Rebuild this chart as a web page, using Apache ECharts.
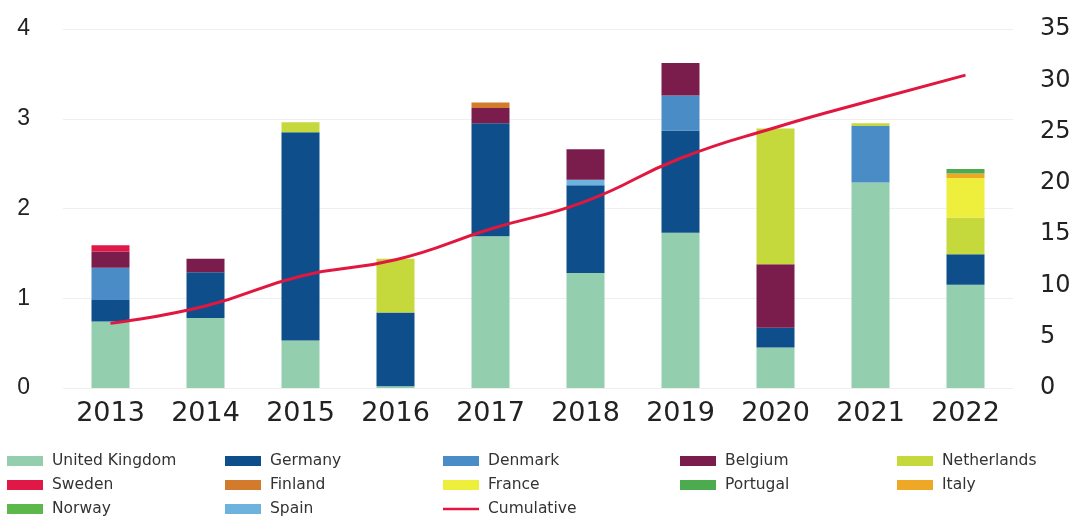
<!DOCTYPE html>
<html>
<head>
<meta charset="utf-8">
<script src="https://cdn.jsdelivr.net/npm/echarts@6/dist/echarts.min.js"></script>
<style>html,body{margin:0;padding:0;background:#fff;}#c{width:1080px;height:520px;}</style>
</head>
<body>
<div id="c"></div>
<script>
const years = ['2013','2014','2015','2016','2017','2018','2019','2020','2021','2022'];
const unitedKingdom = [0.74, 0.78, 0.53, 0.02, 1.69, 1.28, 1.73, 0.45, 2.29, 1.15];
const germany       = [0.24, 0.51, 2.32, 0.82, 1.26, 0.98, 1.14, 0.22, 0,    0.34];
const denmark       = [0.36, 0,    0,    0,    0,    0,    0.39, 0,    0.63, 0];
const spain         = [0,    0,    0,    0,    0,    0.06, 0,    0,    0,    0];
const belgium       = [0.18, 0.15, 0,    0,    0.17, 0.34, 0.36, 0.71, 0,    0];
const netherlands   = [0,    0,    0.11, 0.60, 0,    0,    0,    1.51, 0.03, 0.41];
const sweden        = [0.07, 0,    0,    0,    0,    0,    0,    0,    0,    0];
const france        = [0,    0,    0,    0,    0,    0,    0,    0,    0,    0.44];
const finland       = [0,    0,    0,    0,    0.06, 0,    0,    0,    0,    0];
const italy         = [0,    0,    0,    0,    0,    0,    0,    0,    0,    0.05];
const portugal      = [0,    0,    0,    0,    0,    0,    0,    0,    0,    0.05];
const norway        = [0,    0,    0,    0,    0,    0,    0,    0,    0,    0];
const cumulative    = [6.3, 8.0, 10.9, 12.5, 15.5, 18.2, 22.4, 25.4, 28.0, 30.5];
const leftTicks = [0, 1, 2, 3, 4];
const rightTicks = [0, 5, 10, 15, 20, 25, 30, 35];

const barSeries = [
  ['United Kingdom', unitedKingdom, '#93cfae'],
  ['Germany', germany, '#0e4f8b'],
  ['Denmark', denmark, '#4a8cc6'],
  ['Spain', spain, '#6db3de'],
  ['Belgium', belgium, '#7a1c4c'],
  ['Netherlands', netherlands, '#c6d93c'],
  ['Sweden', sweden, '#df1848'],
  ['France', france, '#eeee3c'],
  ['Finland', finland, '#d27b2c'],
  ['Italy', italy, '#efa826'],
  ['Portugal', portugal, '#4cab4e'],
  ['Norway', norway, '#5db84c']
];

const series = barSeries.map(([name, data, color]) => ({
  name, type: 'bar', stack: 'total', data, barWidth: 38,
  itemStyle: { color }, yAxisIndex: 0
}));
series.push({
  name: 'Cumulative', type: 'line', yAxisIndex: 1, data: cumulative,
  smooth: true, symbol: 'none', lineStyle: { color: '#e2173f', width: 3 },
  itemStyle: { color: '#e2173f' }, z: 5
});

const lineIcon = 'path://M0,0L40,0L40,3L0,3Z';
const item = n => n === 'Cumulative' ? { name: n, icon: lineIcon } : { name: n, icon: 'rect' };

const legendCols = [
  { left: 7,   data: ['United Kingdom', 'Sweden', 'Norway'] },
  { left: 225, data: ['Germany', 'Finland', 'Spain'] },
  { left: 443, data: ['Denmark', 'France', 'Cumulative'] },
  { left: 680, data: ['Belgium', 'Portugal'] },
  { left: 897, data: ['Netherlands', 'Italy'] }
];

const legend = legendCols.map(c => ({
  orient: 'vertical', left: c.left, top: 453, itemGap: 8, padding: 0,
  height: 80,
  itemWidth: 36, itemHeight: 10,
  textStyle: { fontFamily: 'DejaVu Sans', fontSize: 15.5, lineHeight: 16, color: '#333', padding: [0, 0, 0, 4] },
  data: c.data.map(item)
}));

const chart = echarts.init(document.getElementById('c'), null, { renderer: 'canvas' });
chart.setOption({
  animation: false,
  backgroundColor: '#fff',
  legend,
  grid: { left: 63, right: 67, top: 29, bottom: 132 },
  xAxis: {
    type: 'category', data: years,
    axisLine: { show: false }, axisTick: { show: false },
    axisLabel: { fontFamily: 'DejaVu Sans', fontSize: 27, color: '#222', margin: 12 }
  },
  yAxis: [
    {
      type: 'value', min: leftTicks[0], max: leftTicks[leftTicks.length - 1], interval: 1,
      axisLine: { show: false }, axisTick: { show: false },
      splitLine: { lineStyle: { color: '#efefef' } },
      axisLabel: { fontFamily: 'Liberation Sans', fontSize: 23, color: '#222', margin: 33 }
    },
    {
      type: 'value', min: rightTicks[0], max: rightTicks[rightTicks.length - 1], interval: 5,
      axisLine: { show: false }, axisTick: { show: false }, splitLine: { show: false },
      axisLabel: { fontFamily: 'DejaVu Sans', fontSize: 24, color: '#222', margin: 27 }
    }
  ],
  series
});
</script>
</body>
</html>
